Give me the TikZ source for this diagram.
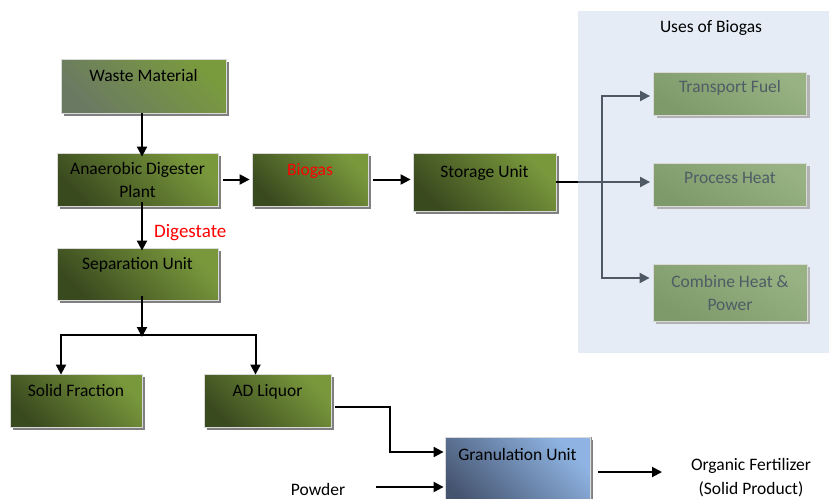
\documentclass[tikz,border=0pt]{standalone}
\usepackage{fontspec}
\setmainfont{Carlito}
\usetikzlibrary{shadows,arrows.meta}
\definecolor{glight}{HTML}{79983C}
\definecolor{gdark}{HTML}{3A4A1F}
\definecolor{wlight}{HTML}{7A9A3E}
\definecolor{wdark}{HTML}{6A7A62}
\definecolor{ulight}{HTML}{98B283}
\definecolor{udark}{HTML}{7E996A}
\definecolor{utext}{HTML}{505C66}
\definecolor{panel}{HTML}{E5ECF6}
\definecolor{blight}{HTML}{8FB4E3}
\definecolor{bdark}{HTML}{44536E}
\definecolor{conn}{HTML}{4F5966}
\begin{document}
\begin{tikzpicture}[x=1pt,y=-1pt,
  base/.style={draw=white!85!black, line width=0.8pt, inner sep=0pt, align=center,
    font=\fontsize{17.5}{23}\selectfont,
    drop shadow={shadow xshift=3pt, shadow yshift=-3pt, fill=black!50, opacity=1}},
  gbox/.style={base, top color=glight, bottom color=gdark, shading angle=-45},
  wbox/.style={base, top color=wlight, bottom color=wdark, shading angle=-45},
  ubox/.style={base, top color=ulight, bottom color=udark, shading angle=-30, text=utext,
    drop shadow={shadow xshift=3pt, shadow yshift=-3pt, fill=black!30, opacity=1}},
  bbox/.style={base, top color=blight, bottom color=bdark, shading angle=-45,
    drop shadow={shadow xshift=2pt, shadow yshift=0pt, fill=black!45, opacity=1}},
  hi/.style={text height=12pt, text depth=21pt},
  uhi/.style={text height=12pt, text depth=15pt},
  arr/.style={-{Triangle[length=10pt,width=10pt]}, line width=2pt},
  garr/.style={-{Triangle[length=10pt,width=10pt]}, line width=2pt, draw=conn},
  lbl/.style={font=\fontsize{17.5}{24}\selectfont, inner sep=0pt, align=center}
]
\useasboundingbox (0,0) rectangle (829,498);
% panel
\fill[panel] (578,11) rectangle (829,353);
\node[lbl] (uses) at (711,28) {Uses of Biogas};

\node[wbox, hi, minimum width=165pt, minimum height=54pt] (waste) at (143.5,86) {Waste Material};
\node[gbox, minimum width=161pt, minimum height=53pt] (ad) at (137.5,179.5) {Anaerobic Digester\\Plant};
\node[gbox, hi, minimum width=116pt, minimum height=53pt, text=red] (biogas) at (310,179.5) {Biogas};
\node[gbox, hi, minimum width=143pt, minimum height=58pt] (storage) at (484.5,182) {Storage Unit};
\node[gbox, hi, minimum width=161pt, minimum height=52pt] (sep) at (137.5,274) {Separation Unit};
\node[gbox, hi, minimum width=132pt, minimum height=53pt] (solid) at (76,400.5) {Solid Fraction};
\node[gbox, hi, minimum width=127pt, minimum height=53pt] (liq) at (267.5,400.5) {AD Liquor};
\node[bbox, minimum width=145pt, minimum height=80pt, text height=12pt, text depth=45pt] (gran) at (517.5,477) {Granulation Unit};

\node[ubox, uhi, minimum width=153pt, minimum height=43pt] (tf) at (730,93.5) {Transport Fuel};
\node[ubox, uhi, minimum width=153pt, minimum height=43pt] (ph) at (730,184.5) {Process Heat};
\node[ubox, minimum width=154pt, minimum height=57pt] (chp) at (730,292.5) {Combine Heat \&\\Power};

\node[lbl, text=red, anchor=base west, font=\fontsize{19}{24}\selectfont] (dig) at (154,237) {Digestate};
\node[lbl, anchor=base] (powder) at (318,495) {Powder};
\node[lbl] (org) at (751,478) {Organic Fertilizer\\(Solid Product)};

% connectors
\coordinate (mainx) at (142,0);
\draw[arr] (waste.south -| mainx) -- ([yshift=-4pt]ad.north -| mainx);
\draw[arr] ([xshift=5pt]ad.east) -- ([xshift=-2pt]biogas.west);
\draw[arr] ([xshift=5pt]biogas.east) -- ([xshift=-2pt]storage.west |- biogas.east);
\draw[arr] ([yshift=4pt]ad.south -| mainx) -- ([yshift=-3pt]sep.north -| mainx);
\coordinate (split) at (142,335);
\draw[arr] ([yshift=4pt]sep.south -| split) -- ([yshift=-2pt]split);
\draw[arr] (split) -| ([yshift=-1pt, xshift=-15pt]solid.north);
\draw[arr] (split) -| ([yshift=-1pt, xshift=-12pt]liq.north);
\coordinate (bend) at (390,407);
\draw[arr] ([xshift=4pt]liq.east |- bend) -- (bend) |- ([xshift=-1pt]gran.west |- 0,452);
\coordinate (pw) at (376,487);
\draw[arr] (pw) -- ([xshift=-1pt]gran.west |- pw);
\coordinate (go) at (598,472);
\coordinate (ge) at (662,472);
\draw[arr] (go) -- (ge);
% uses
\coordinate (vx) at (602,182);
\draw[line width=2pt] (storage.east) -- (578,182);
\draw[garr] (578,182) -- ([xshift=-3pt]ph.west |- vx);
\draw[garr] (602,182) |- ([xshift=-3pt]tf.west |- 0,96);
\draw[garr] (602,182) |- ([xshift=-3pt]chp.west |- 0,278);
\end{tikzpicture}
\end{document}
